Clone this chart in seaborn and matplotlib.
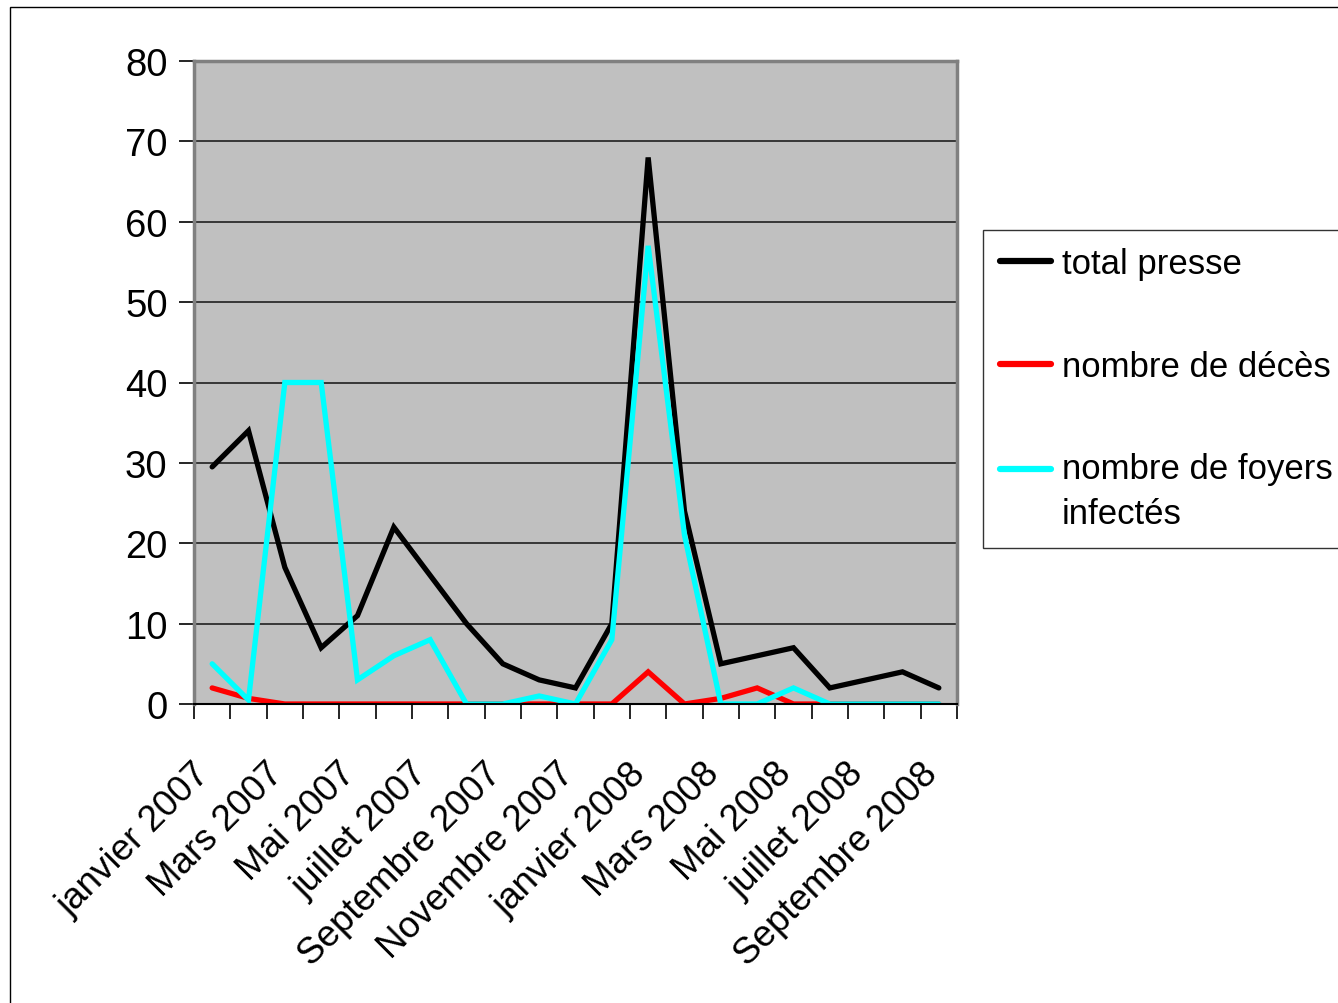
import matplotlib
matplotlib.use("Agg")
import matplotlib.pyplot as plt
from matplotlib.patches import Rectangle
from matplotlib.transforms import ScaledTranslation
from matplotlib.legend_handler import HandlerLine2D
import seaborn as sns
import pandas as pd
import numpy as np

months = ["janvier 2007", "février 2007", "Mars 2007", "avril 2007", "Mai 2007", "juin 2007",
          "juillet 2007", "août 2007", "Septembre 2007", "octobre 2007", "Novembre 2007", "décembre 2007",
          "janvier 2008", "février 2008", "Mars 2008", "avril 2008", "Mai 2008", "juin 2008",
          "juillet 2008", "août 2008", "Septembre 2008"]
total_presse = [29.5, 34, 17, 7, 11, 22, 16, 10, 5, 3, 2, 10, 68, 24, 5, 6, 7, 2, 3, 4, 2]
nombre_deces = [2, 0.7, 0, 0, 0, 0, 0, 0, 0, 0, 0, 0, 4, 0, 0.7, 2, 0, 0, 0, 0, 0]
nombre_foyers = [5, 0.5, 40, 40, 3, 6, 8, 0, 0, 1, 0, 8, 57, 21, 0, 0, 2, 0, 0, 0, 0]
series_names = ["total presse", "nombre de décès", "nombre de foyers\ninfectés"]
series_colors = ["#000000", "#FF0000", "#00FFFF"]
y_ticks = [0, 10, 20, 30, 40, 50, 60, 70, 80]

rows = []
for name, vals in zip(series_names, [total_presse, nombre_deces, nombre_foyers]):
    for i, v in enumerate(vals):
        rows.append({"idx": i, "mois": months[i], "valeur": v, "serie": name})
df = pd.DataFrame(rows)

plt.rcParams['font.family'] = ['Liberation Sans', 'DejaVu Sans']

W, H = 1338, 1004
fig = plt.figure(figsize=(W / 100, H / 100), dpi=100)
fig.patch.set_facecolor("white")
ax = fig.add_axes([194 / W, 1 - 705 / H, (957 - 194) / W, (705 - 62) / H])
ax.set_facecolor("#C0C0C0")

sns.lineplot(data=df, x="idx", y="valeur", hue="serie", hue_order=series_names,
             palette=dict(zip(series_names, series_colors)), linewidth=3.8,
             ax=ax, legend=True, estimator=None, sort=False)
for ln in ax.lines:
    ln.set_solid_joinstyle("miter")
    ln.set_solid_capstyle("round")

ax.set_xlim(-0.5, len(months) - 0.5)
ax.set_ylim(0, 80)
ax.set_yticks(y_ticks)
ax.yaxis.grid(True, color="#202020", linewidth=1.2)
ax.set_axisbelow(True)

ax.set_xticks(range(0, len(months), 2))
ax.set_xticklabels([months[i] for i in range(0, len(months), 2)], rotation=45,
                   ha="right", va="center", rotation_mode="anchor")
ax.set_xticks(np.arange(-0.5, len(months), 1.0), minor=True)
ax.tick_params(axis="x", which="major", length=0, pad=46, labelsize=26.5)
ax.tick_params(axis="x", which="minor", length=11, width=1.2, color="black", direction="out")
ax.tick_params(axis="y", which="major", length=11, width=1.2, color="black", direction="out",
               labelsize=27.5, pad=8)
off = ScaledTranslation(-0.07, 0, fig.dpi_scale_trans)
for lbl in ax.get_xticklabels():
    lbl.set_transform(lbl.get_transform() + off)
ax.set_xlabel("")
ax.set_ylabel("")

for s in ["top", "right", "left"]:
    ax.spines[s].set_color("#808080")
    ax.spines[s].set_linewidth(2.5)
ax.spines["bottom"].set_color("black")
ax.spines["bottom"].set_linewidth(1.5)


class FirstLineHandler(HandlerLine2D):
    def __init__(self, shift_pt, **kw):
        super().__init__(**kw)
        self.shift_pt = shift_pt

    def create_artists(self, legend, orig_handle, xdescent, ydescent, width, height,
                       fontsize, trans):
        return super().create_artists(legend, orig_handle, xdescent,
                                      ydescent - 2 * self.shift_pt, width, height,
                                      fontsize, trans)


handles, labels = ax.get_legend_handles_labels()
leg = ax.legend(handles, labels, loc="upper left",
                bbox_to_anchor=(983 / W, 1 - 231 / H), bbox_transform=fig.transFigure,
                frameon=True, fancybox=False, shadow=False, fontsize=25,
                handlelength=1.45, handletextpad=0.32, borderpad=0.5,
                labelspacing=2.0, borderaxespad=0,
                handler_map={handles[2]: FirstLineHandler(16.5)})
leg.get_frame().set_edgecolor("black")
leg.get_frame().set_linewidth(1.0)
leg.get_frame().set_facecolor("white")
for t in leg.get_texts():
    t.set_linespacing(1.47)
for lh in leg.get_lines():
    lh.set_linewidth(4.5)
    lh.set_solid_capstyle("round")

fig.patches.append(Rectangle((10 / W, -0.1), 1.2, 1 - 8 / H + 0.1, transform=fig.transFigure,
                             fill=False, edgecolor="black", linewidth=1.0))

fig.savefig("out.png", dpi=100)
